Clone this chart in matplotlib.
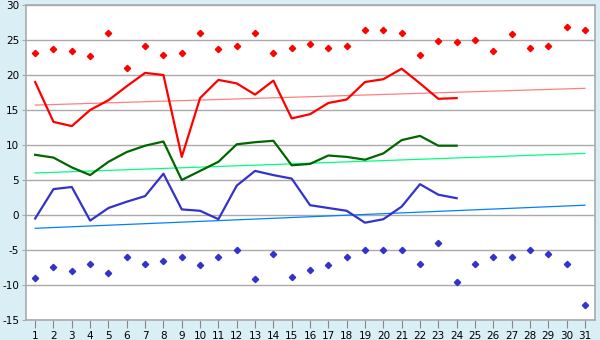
import numpy as np
import matplotlib
matplotlib.use("Agg")
import matplotlib.pyplot as plt

plt.rcParams['axes.unicode_minus'] = False

days = list(range(1, 32))

# daily maximum (red points)
max_pts = [23.1, 23.7, 23.4, 22.7, 26.0, 21.0, 24.2, 22.8, 23.2, 26.0,
           23.7, 24.2, 26.0, 23.2, 23.9, 24.5, 23.8, 24.2, 26.4, 26.5,
           26.0, 22.9, 24.9, 24.7, 25.0, 23.5, 25.8, 23.9, 24.1, 26.9, 26.4]
# daily minimum (blue points)
min_pts = [-9.0, -7.4, -8.0, -7.0, -8.3, -6.0, -7.0, -6.6, -6.0, -7.2,
           -6.0, -5.0, -9.2, -5.6, -8.9, -7.8, -7.2, -6.0, -5.0, -5.0,
           -5.0, -7.0, -4.0, -9.5, -7.0, -6.0, -6.0, -5.0, -5.5, -7.0, -12.9]

# measured days
days_meas = list(range(1, 25))
red_line = [19.0, 13.3, 12.7, 15.0, 16.4, 18.4, 20.3, 20.0, 8.3, 16.7,
            19.3, 18.8, 17.2, 19.2, 13.8, 14.4, 16.0, 16.5, 19.0, 19.4,
            20.9, 18.8, 16.6, 16.7]
green_line = [8.6, 8.2, 6.8, 5.7, 7.6, 9.0, 9.9, 10.5, 5.0, 6.3,
              7.6, 10.1, 10.4, 10.6, 7.1, 7.3, 8.5, 8.3, 7.9, 8.8,
              10.7, 11.3, 9.9, 9.9]
blue_line = [-0.5, 3.7, 4.0, -0.8, 1.0, 1.9, 2.7, 5.9, 0.8, 0.6,
             -0.6, 4.2, 6.3, 5.7, 5.2, 1.4, 1.0, 0.6, -1.1, -0.6,
             1.2, 4.4, 2.9, 2.4]

# trend lines (value at day 1, value at day 31)
trend_days = [1, 31]
red_trend = [15.7, 18.1]
green_trend = [6.0, 8.8]
blue_trend = [-1.9, 1.4]

bg = '#daeef5'
fig = plt.figure(figsize=(6, 3.4), dpi=100, facecolor=bg)
ax = fig.add_axes([26/600, 1-320/340, (595-26)/600, 315/340])
ax.set_facecolor('white')

ax.plot(trend_days, red_trend, color='#ff7f7f', lw=0.9, zorder=2)
ax.plot(trend_days, green_trend, color='#00ff80', lw=0.9, zorder=2)
ax.plot(trend_days, blue_trend, color='#0080ff', lw=0.9, zorder=2)

ax.plot(days_meas, red_line, color='#ff0000', lw=1.6, zorder=3)
ax.plot(days_meas, green_line, color='#006600', lw=1.6, zorder=3)
ax.plot(days_meas, blue_line, color='#3333cc', lw=1.6, zorder=3)

ax.plot(days, max_pts, ls='none', marker='D', ms=3.2, color='#ff0000', zorder=4)
ax.plot(days, min_pts, ls='none', marker='D', ms=3.2, color='#3333cc', zorder=4)

ax.set_xlim(0.5, 31.55)
ax.set_ylim(-15, 30)
ax.set_xticks(days)
ax.set_yticks(range(-15, 31, 5))
ax.grid(axis='y', color='#aaaaaa', lw=1)
ax.set_axisbelow(True)
for s in ax.spines.values():
    s.set_color('#aaaaaa')
    s.set_linewidth(1.2)
ax.tick_params(axis='x', length=6, color='#888888', labelsize=7.5, pad=2)
ax.tick_params(axis='y', length=3, color='#aaaaaa', labelsize=7.5, pad=2)

fig.savefig('out.png', dpi=100, facecolor=bg)
